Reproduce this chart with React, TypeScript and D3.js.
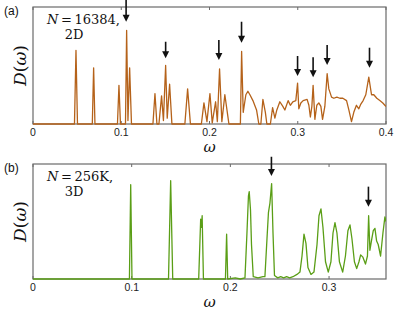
import React, { useRef, useEffect } from "react";
import * as d3 from "d3";

// panel (a): N = 16384, 2D  -- [omega, D]
const spectrum2D: [number, number][] = [
  [0, 0], [0.047, 0], [0.0487, 0.63], [0.0504, 0],
  [0.0672, 0], [0.0687, 0.48], [0.0702, 0],
  [0.0957, 0], [0.0974, 0.33], [0.0991, 0],
  [0.1048, 0], [0.1061, 0.8], [0.1076, 0.03], [0.1095, 0.48], [0.1116, 0],
  [0.1359, 0], [0.1382, 0.26], [0.1404, 0],
  [0.1427, 0], [0.1457, 0.24], [0.1478, 0.03], [0.1503, 0.5], [0.1521, 0.05], [0.1548, 0.34], [0.1574, 0],
  [0.1721, 0], [0.1752, 0.3], [0.1784, 0],
  [0.1908, 0], [0.1937, 0.18], [0.1971, 0.02], [0.2005, 0.26], [0.2031, 0.01], [0.2069, 0.19],
  [0.2089, 0.02], [0.2114, 0.47], [0.214, 0.02], [0.2174, 0.25], [0.222, 0],
  [0.235, 0], [0.2364, 0.62], [0.2382, 0.1], [0.2412, 0.25], [0.2435, 0.28], [0.2458, 0.25],
  [0.2492, 0.2], [0.2533, 0.12], [0.2559, 0],
  [0.2582, 0], [0.2605, 0.21], [0.2633, 0.1], [0.265, 0], [0.269, 0], [0.2715, 0.14],
  [0.2741, 0.05], [0.2763, 0.12], [0.2797, 0.19], [0.2831, 0.15], [0.2854, 0.12], [0.2891, 0.2],
  [0.2916, 0.16], [0.2944, 0.19], [0.2978, 0.2], [0.2998, 0.35], [0.3012, 0.13], [0.3035, 0.18],
  [0.3061, 0.2], [0.3106, 0.21], [0.3126, 0.16], [0.3143, 0.06], [0.316, 0.15], [0.3174, 0.33],
  [0.3194, 0.04], [0.3216, 0.16], [0.3239, 0.18], [0.3262, 0.15], [0.3281, 0.04], [0.3307, 0.15],
  [0.3333, 0.43], [0.3352, 0.3], [0.3383, 0.23], [0.3409, 0.22], [0.3443, 0.23], [0.3477, 0.22],
  [0.3511, 0.22], [0.3553, 0.2], [0.3579, 0.12], [0.3609, 0.02], [0.3635, 0.1], [0.3665, 0.16],
  [0.3692, 0.13], [0.3715, 0.17], [0.3741, 0.2], [0.3771, 0.25], [0.3805, 0.4], [0.3836, 0.25],
  [0.3862, 0.25], [0.3896, 0.22], [0.393, 0.2], [0.3964, 0.18], [0.4, 0.15],
];

// panel (b): N = 256K, 3D -- [omega, D]
const spectrum3D: [number, number][] = [
  [0, 0], [0.0977, 0], [0.099, 0.82], [0.1003, 0],
  [0.1373, 0], [0.1395, 0.855], [0.1416, 0],
  [0.1679, 0], [0.1699, 0.52], [0.1707, 0.45], [0.1714, 0.55], [0.1727, 0],
  [0.195, 0], [0.1962, 0.39], [0.1973, 0], [0.205, 0.01], [0.21, 0],
  [0.2148, 0.01], [0.2168, 0.4], [0.2183, 0.72], [0.2191, 0.76], [0.2204, 0.6], [0.2214, 0.3], [0.2232, 0.02],
  [0.228, 0.01], [0.233, 0.02],
  [0.235, 0.02], [0.2371, 0.35], [0.2386, 0.58], [0.2401, 0.66], [0.2418, 0.83], [0.2432, 0.4], [0.2447, 0.03],
  [0.248, 0.01], [0.251, 0.02], [0.254, 0.01], [0.257, 0.02], [0.26, 0.01],
  [0.2634, 0.02], [0.2675, 0.04], [0.2705, 0.06], [0.2726, 0.2], [0.2746, 0.39], [0.2766, 0.31],
  [0.2786, 0.1], [0.2817, 0.04], [0.2847, 0.06], [0.2878, 0.3], [0.2898, 0.55], [0.2918, 0.61],
  [0.2938, 0.45], [0.2964, 0.15], [0.2992, 0.06], [0.3019, 0.15], [0.304, 0.4], [0.306, 0.49],
  [0.308, 0.4], [0.3105, 0.15], [0.3138, 0.06], [0.3166, 0.2], [0.3191, 0.42], [0.3212, 0.47],
  [0.3232, 0.35], [0.3257, 0.15], [0.328, 0.09], [0.3303, 0.15], [0.332, 0.21], [0.3343, 0.19],
  [0.3369, 0.13], [0.3389, 0.2], [0.3401, 0.55], [0.3414, 0.25], [0.3429, 0.33], [0.3448, 0.42],
  [0.3465, 0.44], [0.3482, 0.33], [0.3498, 0.3], [0.3522, 0.2], [0.3546, 0.4], [0.3566, 0.54],
  [0.3577, 0.5],
];

// arrows: omega, start D, tip D
const arrows2D: [number, number, number][] = [
  [0.1055, 1.06, 0.874], [0.1503, 0.703, 0.562], [0.2106, 0.718, 0.547], [0.2363, 0.874, 0.695],
  [0.2998, 0.581, 0.41], [0.3174, 0.57, 0.399], [0.3333, 0.675, 0.504], [0.3813, 0.652, 0.481],
];
const arrows3D: [number, number, number][] = [
  [0.2416, 1.063, 0.896], [0.3399, 0.803, 0.629],
];

const ticks2D = [0, 0.1, 0.2, 0.3, 0.4];
const ticks3D = [0, 0.1, 0.2, 0.3];

const panels = [
  { tag: "(a)", n: "16384,", dim: "2D", data: spectrum2D, arrows: arrows2D, ticks: ticks2D, xMax: 0.4, top: 7, bottom: 124, color: "#b5621a" },
  { tag: "(b)", n: "256K,", dim: "3D", data: spectrum3D, arrows: arrows3D, ticks: ticks3D, xMax: 0.3577, top: 164, bottom: 279, color: "#5a9e16" },
];

const App = () => {
  const svgRef = useRef<SVGSVGElement>(null);

  useEffect(() => {
    const svg = d3.select(svgRef.current);
    svg.selectAll("*").remove();
    const left = 33;
    const right = 386;
    const serif = "'DejaVu Serif', serif";
    const sans = "'Liberation Sans', Arial, sans-serif";

    panels.forEach((p, i) => {
      const x = d3.scaleLinear().domain([0, p.xMax]).range([left, right]);
      const y = d3.scaleLinear().domain([0, 1]).range([p.bottom, p.top]);
      const g = svg.append("g");
      const clipId = `clip${i}`;
      g.append("clipPath").attr("id", clipId)
        .append("rect").attr("x", left).attr("y", p.top).attr("width", right - left).attr("height", p.bottom - p.top + 1);

      // frame
      g.append("rect").attr("x", left).attr("y", p.top).attr("width", right - left).attr("height", p.bottom - p.top)
        .attr("fill", "none").attr("stroke", "#6a6a6a").attr("stroke-width", 1.2);

      p.ticks.forEach((t) => {
        g.append("line").attr("x1", x(t)).attr("x2", x(t)).attr("y1", p.bottom).attr("y2", p.bottom - 3)
          .attr("stroke", "#6a6a6a").attr("stroke-width", 1);
        g.append("line").attr("x1", x(t)).attr("x2", x(t)).attr("y1", p.top).attr("y2", p.top + 3)
          .attr("stroke", "#6a6a6a").attr("stroke-width", 1);
        g.append("text").attr("x", x(t)).attr("y", p.bottom + 12).attr("text-anchor", "middle")
          .attr("font-family", sans).attr("font-size", 10.5).attr("fill", "#222").text(String(t));
      });

      const line = d3.line<[number, number]>().x((d) => x(d[0])).y((d) => y(d[1]));
      g.append("path").attr("clip-path", `url(#${clipId})`).attr("d", line(p.data)!)
        .attr("fill", "none").attr("stroke", p.color).attr("stroke-width", 1.3).attr("stroke-linejoin", "round");

      p.arrows.forEach(([w, s, tip]) => {
        const ax = x(w);
        const ty = y(tip);
        g.append("line").attr("x1", ax).attr("x2", ax).attr("y1", y(s)).attr("y2", ty - 5)
          .attr("stroke", "#111").attr("stroke-width", 1.6);
        g.append("path").attr("d", `M${ax - 3.5},${ty - 7}L${ax + 3.5},${ty - 7}L${ax},${ty}Z`).attr("fill", "#111");
      });

      // labels
      g.append("text").attr("x", 4).attr("y", p.top + 8).attr("font-family", sans).attr("font-size", 12).attr("fill", "#111").text(p.tag);
      const nt = g.append("text").attr("x", 47).attr("y", p.top + 17).attr("font-family", serif).attr("font-size", 13).attr("fill", "#111");
      nt.append("tspan").attr("font-style", "italic").text("N");
      nt.append("tspan").text(`\u2009=\u2009${p.n}`);
      g.append("text").attr("x", 74).attr("y", p.top + 32).attr("text-anchor", "middle").attr("font-family", serif).attr("font-size", 13).attr("fill", "#111").text(p.dim);

      g.append("text").attr("x", (left + right) / 2).attr("y", p.bottom + 28).attr("text-anchor", "middle")
        .attr("font-family", serif).attr("font-style", "italic").attr("font-size", 15).attr("fill", "#111").text("ω");

      const cy = (p.top + p.bottom) / 2;
      const yl = g.append("text").attr("transform", `translate(26,${cy}) rotate(-90)`).attr("text-anchor", "middle")
        .attr("font-family", serif).attr("font-size", 17).attr("fill", "#111");
      yl.append("tspan").attr("font-style", "italic").text("D");
      yl.append("tspan").text("(");
      yl.append("tspan").attr("font-style", "italic").text("ω");
      yl.append("tspan").text(")");
    });
  }, []);

  return <svg ref={svgRef} width={415} height={322} style={{ position: "absolute", left: 0, top: 0, background: "#fff" }} />;
};

export default App;
